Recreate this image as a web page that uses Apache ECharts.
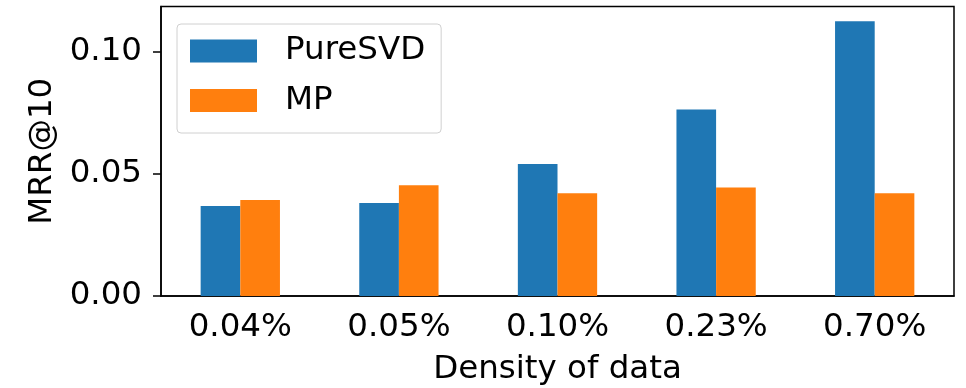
<!DOCTYPE html>
<html>
<head>
<meta charset="utf-8">
<script src="https://cdn.jsdelivr.net/npm/echarts@6/dist/echarts.min.js"></script>
<style>html,body{margin:0;padding:0;background:#fff}#c{width:966px;height:388px}</style>
</head>
<body>
<div id="c"></div>
<script>
const categories = ['0.04%', '0.05%', '0.10%', '0.23%', '0.70%'];
const pureSVD = [0.0368, 0.0381, 0.0540, 0.0763, 0.1125];
const mp = [0.0393, 0.0453, 0.0421, 0.0444, 0.0421];
const yTicks = [0, 0.05, 0.10];
const yLabels = ['0.00', '0.05', '0.10'];

const FONT = 'DejaVu Sans';
const FS = 32.5;
const chart = echarts.init(document.getElementById('c'), null, {renderer: 'canvas'});
chart.setOption({
  animation: false,
  backgroundColor: '#fff',
  textStyle: {fontFamily: FONT},
  grid: {left: 161, right: 12, top: 6.5, bottom: 92, show: true, borderColor: '#000', borderWidth: 1.5,
    backgroundColor: 'transparent', containLabel: false, outerBoundsMode: 'none'},
  legend: {
    left: 177, top: 24,
    orient: 'vertical',
    itemWidth: 67, itemHeight: 23, itemGap: 16.5,
    padding: [10.5, 16, 16, 13],
    borderColor: '#d0d0d0', borderWidth: 1, borderRadius: 4,
    backgroundColor: 'rgba(255,255,255,0.8)',
    textStyle: {fontFamily: FONT, fontSize: FS, color: '#000', padding: [0, 0, 0, 23]},
    icon: 'rect',
    data: ['PureSVD', 'MP']
  },
  xAxis: {
    type: 'category', data: categories,
    name: 'Density of data', nameLocation: 'middle', nameGap: 57,
    nameTextStyle: {fontFamily: FONT, fontSize: FS, color: '#000'},
    axisLine: {lineStyle: {color: '#000', width: 1.5}},
    axisTick: {alignWithLabel: true, length: 8, lineStyle: {color: '#000', width: 1.5}},
    axisLabel: {fontFamily: FONT, fontSize: FS, color: '#000', margin: 15}
  },
  yAxis: {
    type: 'value', min: 0, max: 0.1185,
    name: 'MRR@10', nameLocation: 'middle', nameGap: 100,
    nameTextStyle: {fontFamily: FONT, fontSize: FS, color: '#000'},
    axisLine: {show: true, lineStyle: {color: '#000', width: 1.5}},
    axisTick: {show: true, length: 8, lineStyle: {color: '#000', width: 1.5}, customValues: yTicks},
    axisLabel: {fontFamily: FONT, fontSize: FS, color: '#000', margin: 19, customValues: yTicks,
      formatter: v => { const i = yTicks.findIndex(t => Math.abs(t - v) < 1e-9); return i >= 0 ? yLabels[i] : ''; }},
    splitLine: {show: false}
  },
  series: [
    {name: 'PureSVD', type: 'bar', data: pureSVD, barWidth: '25%', barGap: '0%', itemStyle: {color: '#1f77b4'}},
    {name: 'MP', type: 'bar', data: mp, barWidth: '25%', barGap: '0%', itemStyle: {color: '#ff7f0e'}}
  ]
});
</script>
</body>
</html>
